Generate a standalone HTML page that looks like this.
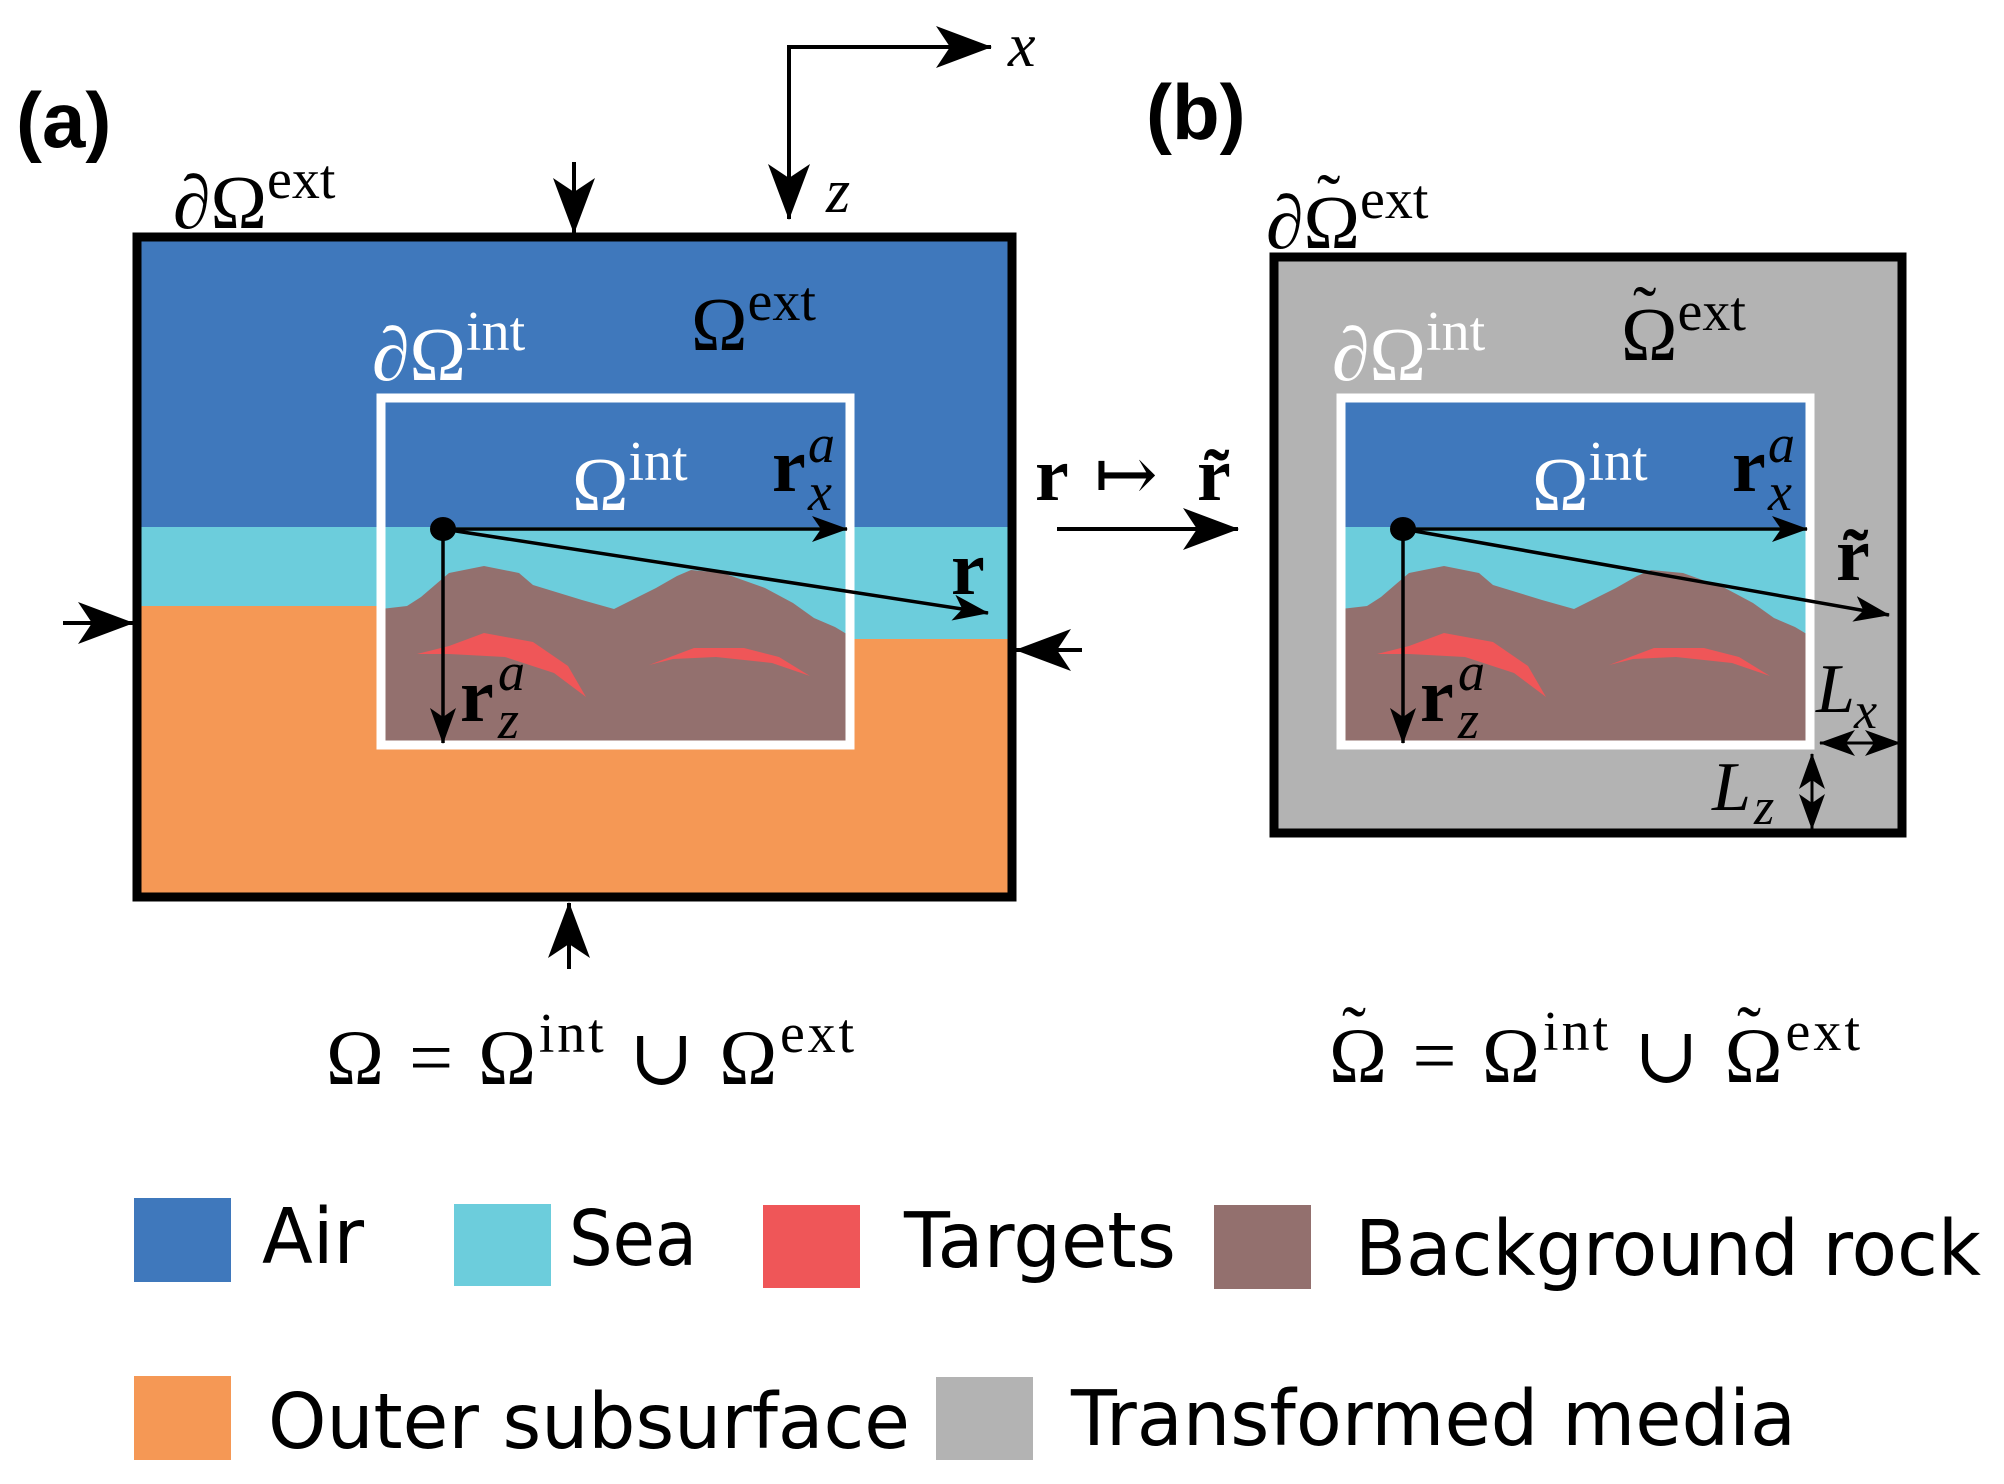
<!DOCTYPE html>
<html><head><meta charset="utf-8"><style>
html,body{margin:0;padding:0;background:#fff;}
svg{display:block;}
.m{font-family:"Liberation Serif","DejaVu Serif",serif;}
.b{font-weight:bold;}
.i{font-style:italic;}
.lg{font-family:"DejaVu Sans","Liberation Sans",sans-serif;font-size:77px;}
</style></head><body>
<svg width="2004" height="1484" viewBox="0 0 2004 1484" xmlns="http://www.w3.org/2000/svg">
<defs>
<marker id="H" viewBox="0 0 56 42" refX="55" refY="21" markerWidth="56" markerHeight="42" orient="auto" markerUnits="userSpaceOnUse"><path d="M0,0 L56,21 L0,42 L14,21z" fill="#000"/></marker>
<marker id="s" viewBox="0 0 36 26" refX="35" refY="13" markerWidth="36" markerHeight="26" orient="auto" markerUnits="userSpaceOnUse"><path d="M0,0 L36,13 L0,26 L9,13z" fill="#000"/></marker>
<marker id="s2" viewBox="0 0 36 26" refX="35" refY="13" markerWidth="36" markerHeight="26" orient="auto-start-reverse" markerUnits="userSpaceOnUse"><path d="M0,0 L36,13 L0,26 L9,13z" fill="#000"/></marker>
<g id="inner">
  <rect x="377" y="398" width="473" height="347" fill="#3f78bc"/>
  <rect x="377" y="527" width="473" height="218" fill="#6ccddc"/>
  <path d="M381,609 L407,606 L421,597 L449,573 L484,566 L519,573 L533,585 L582,600 L614,609 L656,588 L677,576 L691,570 L723,573 L765,588 L793,603 L814,618 L835,627 L850,636 L850,745 L381,745Z" fill="#93706e"/>
  <path d="M417,654 L449,646 L484,633 L533,642 L568,666 L586,697 L554,673 L505,657 L449,654Z" fill="#ef5658"/>
  <path d="M649,665 L694,648 L744,648 L779,657 L810,676 L772,663 L716,657 L673,659Z" fill="#ef5658"/>
  <rect x="381" y="398" width="469" height="347" fill="none" stroke="#fff" stroke-width="9"/>
  <ellipse cx="443" cy="529" rx="13" ry="12" fill="#000"/>
  <line x1="443" y1="529" x2="847" y2="529" stroke="#000" stroke-width="3.5" marker-end="url(#s)"/>
  <line x1="443" y1="529" x2="443" y2="743" stroke="#000" stroke-width="3.5" marker-end="url(#s)"/>
  <text class="m" x="572" y="510" font-size="76" fill="#fff">Ω<tspan font-size="56" dy="-30">int</tspan></text>
  <text class="m b" x="772" y="491" font-size="76">r</text>
  <text class="m i" x="808" y="462" font-size="54">a</text>
  <text class="m i" x="808" y="510" font-size="54">x</text>
  <text class="m b" x="460" y="721" font-size="76">r</text>
  <text class="m i" x="498" y="690" font-size="54">a</text>
  <text class="m i" x="498" y="738" font-size="54">z</text>
  <text class="m" x="372" y="380" font-size="76" fill="#fff">∂Ω<tspan font-size="56" dy="-30">int</tspan></text>
</g>
</defs>

<text x="16" y="147" font-family="Liberation Sans, sans-serif" font-weight="bold" font-size="78">(a)</text>
<text x="1146" y="139" font-family="Liberation Sans, sans-serif" font-weight="bold" font-size="78">(b)</text>

<rect x="137" y="237" width="875" height="660" fill="#3f78bc"/>
<rect x="137" y="527" width="875" height="370" fill="#6ccddc"/>
<path d="M137,606 L381,606 L381,745 L850,745 L850,639 L1012,639 L1012,897 L137,897Z" fill="#f59855"/>
<rect x="137" y="237" width="875" height="660" fill="none" stroke="#000" stroke-width="9"/>
<use href="#inner"/>
<line x1="443" y1="529" x2="988" y2="613" stroke="#000" stroke-width="3.5" marker-end="url(#s)"/>
<text class="m b" x="951" y="594" font-size="76">r</text>
<text class="m" x="691" y="350" font-size="76">Ω<tspan font-size="56" dy="-30">ext</tspan></text>
<text class="m" x="173" y="228" font-size="76">∂Ω<tspan font-size="56" dy="-30">ext</tspan></text>

<polyline points="789,217 789,47 989,47" fill="none" stroke="#000" stroke-width="4"/>
<line x1="789" y1="47" x2="991" y2="47" stroke="#000" stroke-width="4" marker-end="url(#H)"/>
<line x1="789" y1="47" x2="789" y2="219" stroke="#000" stroke-width="4" marker-end="url(#H)"/>
<text class="m i" x="1008" y="66" font-size="62">x</text>
<text class="m i" x="826" y="212" font-size="62">z</text>

<line x1="574" y1="162" x2="574" y2="233" stroke="#000" stroke-width="4" marker-end="url(#H)"/>
<line x1="569" y1="969" x2="569" y2="903" stroke="#000" stroke-width="4" marker-end="url(#H)"/>
<line x1="63" y1="623" x2="133" y2="623" stroke="#000" stroke-width="4" marker-end="url(#H)"/>
<line x1="1082" y1="650" x2="1016" y2="650" stroke="#000" stroke-width="4" marker-end="url(#H)"/>

<text class="m b" x="1035" y="500" font-size="76">r</text>
<text class="m" x="1094" y="500" font-size="76">↦</text>
<text class="m b" x="1197" y="500" font-size="76">r̃</text>
<line x1="1057" y1="529" x2="1238" y2="529" stroke="#000" stroke-width="4" marker-end="url(#H)"/>

<rect x="1274" y="257" width="628" height="576" fill="#b3b3b3" stroke="#000" stroke-width="9"/>
<use href="#inner" transform="translate(960,0)"/>
<line x1="1403" y1="529" x2="1889" y2="615" stroke="#000" stroke-width="3.5" marker-end="url(#s)"/>
<text class="m b" x="1836" y="580" font-size="76">r̃</text>
<text class="m" x="1621" y="360" font-size="76">Ω<tspan font-size="56" dy="-30">ext</tspan></text>
<text class="m" x="1633" y="334" font-size="70">˜</text>
<text class="m" x="1266" y="248" font-size="76">∂Ω<tspan font-size="56" dy="-30">ext</tspan></text>
<text class="m" x="1317" y="222" font-size="70">˜</text>
<line x1="1820" y1="743" x2="1900" y2="743" stroke="#000" stroke-width="3" marker-start="url(#s2)" marker-end="url(#s2)"/>
<line x1="1812" y1="754" x2="1812" y2="829" stroke="#000" stroke-width="3" marker-start="url(#s2)" marker-end="url(#s2)"/>
<text class="m i" x="1816" y="712" font-size="70">L</text>
<text class="m i" x="1854" y="728" font-size="52">x</text>
<text class="m i" x="1712" y="810" font-size="70">L</text>
<text class="m i" x="1754" y="824" font-size="52">z</text>

<text class="m" x="326" y="1084" font-size="78" textLength="528" lengthAdjust="spacing">Ω = Ω<tspan font-size="56" dy="-32">int</tspan><tspan dy="32"> ∪ Ω</tspan><tspan font-size="56" dy="-32">ext</tspan></text>
<text class="m" x="1329" y="1082" font-size="78" textLength="531" lengthAdjust="spacing">Ω = Ω<tspan font-size="56" dy="-32">int</tspan><tspan dy="32"> ∪ Ω</tspan><tspan font-size="56" dy="-32">ext</tspan></text>
<text class="m" x="1342" y="1056" font-size="72">˜</text>
<text class="m" x="1737" y="1056" font-size="72">˜</text>

<rect x="134" y="1198" width="97" height="84" fill="#3f78bc"/>
<text class="lg" x="262" y="1263" textLength="102" lengthAdjust="spacingAndGlyphs">Air</text>
<rect x="454" y="1204" width="97" height="82" fill="#6ccddc"/>
<text class="lg" x="569" y="1265" textLength="128" lengthAdjust="spacingAndGlyphs">Sea</text>
<rect x="763" y="1205" width="97" height="83" fill="#ef5658"/>
<text class="lg" x="904" y="1267" textLength="272" lengthAdjust="spacingAndGlyphs">Targets</text>
<rect x="1214" y="1205" width="97" height="84" fill="#93706e"/>
<text class="lg" x="1355" y="1275" textLength="626" lengthAdjust="spacingAndGlyphs">Background rock</text>
<rect x="134" y="1376" width="97" height="84" fill="#f59855"/>
<text class="lg" x="268" y="1448" textLength="642" lengthAdjust="spacingAndGlyphs">Outer subsurface</text>
<rect x="936" y="1377" width="97" height="83" fill="#b3b3b3"/>
<text class="lg" x="1071" y="1445" textLength="725" lengthAdjust="spacingAndGlyphs">Transformed media</text>
</svg>
</body></html>
